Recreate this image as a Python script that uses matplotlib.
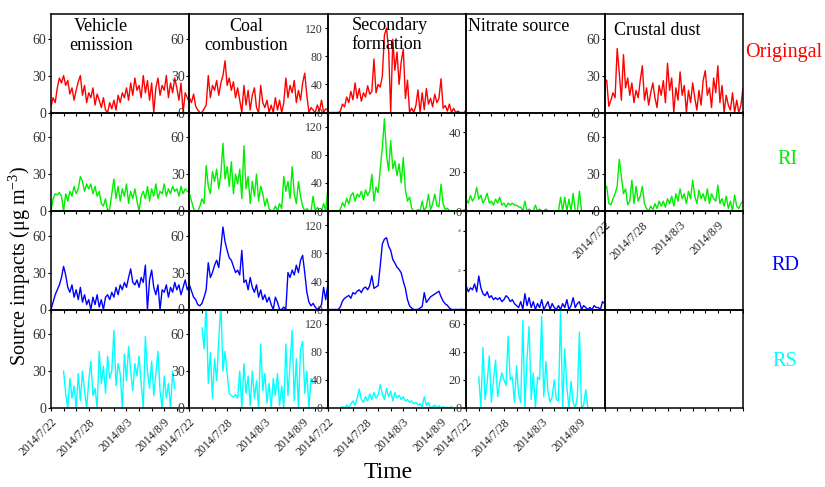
import numpy as np
import pandas as pd
import matplotlib
matplotlib.use('Agg')
import matplotlib.pyplot as plt
import matplotlib.dates as mdates

plt.rcParams['font.family'] = ['Liberation Serif', 'DejaVu Serif']
plt.rcParams['mathtext.fontset'] = 'custom'
plt.rcParams['mathtext.rm'] = 'Liberation Serif'
plt.rcParams['mathtext.it'] = 'Liberation Serif:italic'

# time axes, 8-hourly
t_full = pd.date_range('2014-07-22 00:00', periods=67, freq='8h')
t_rs = pd.date_range('2014-07-24 00:00', periods=54, freq='8h')

sources = ['Vehicle\nemission', 'Coal\ncombustion', 'Secondary\nformation', 'Nitrate source', 'Crustal dust']
methods = ['Origingal', 'RI', 'RD', 'RS']
method_colors = ['#ff0000', '#00ee00', '#0000ff', '#00ffff']
tick_dates = ['2014-07-22', '2014-07-28', '2014-08-03', '2014-08-09']
tick_labels = ['2014/7/22', '2014/7/28', '2014/8/3', '2014/8/9']

# ---- Original (red)
veh_orig = [5, 12, 8, 20, 28, 24, 30, 22, 26, 15, 20, 10, 18, 25, 30, 14, 22, 8, 16, 12, 20,
            6, 15, 10, 4, 12, 2, 0, 8, 3, 10, 2, 14, 8, 16, 12, 20, 10, 24, 14, 28, 18, 22, 12,
            30, 16, 26, 10, 24, 0, 20, 28, 14, 22, 18, 30, 12, 24, 16, 28, 20, 10, 24, 0, 16, 12, 8]
coal_orig = [12, 8, 15, 5, 2, 0, 0, 3, 6, 30, 12, 22, 18, 26, 14, 24, 30, 42, 22, 28, 18,
             25, 12, 20, 10, 0, 22, 6, 18, 2, 14, 20, 4, 0, 22, 8, 4, 10, 0, 6, 0, 12, 2, 10,
             0, 8, 28, 12, 22, 16, 26, 8, 18, 10, 24, 32, 14, 0, 4, 2, 0, 6, 1, 10, 0, 3, 2]
sec_orig = [0, 0, 0, 0, 0, 0, 2, 12, 8, 22, 14, 30, 18, 42, 20, 34, 16, 28, 22, 38, 26,
            30, 76, 28, 40, 36, 52, 110, 120, 90, 0, 104, 60, 86, 40, 72, 90, 20, 46, 0, 6, 0,
            10, 32, 0, 28, 4, 34, 12, 20, 8, 26, 14, 20, 48, 6, 10, 2, 12, 0, 6, 0, 2, 0, 0, 0, 4]
crust_orig = [27, 26, 5, 10, 16, 12, 52, 32, 10, 47, 20, 28, 14, 24, 8, 18, 12, 26, 38, 10, 20,
              6, 16, 24, 12, 4, 22, 14, 26, 8, 40, 18, 28, 0, 20, 10, 33, 14, 22, 0, 18, 8, 24,
              12, 2, 18, 6, 26, 34, 14, 20, 4, 28, 16, 38, 8, 22, 0, 14, 6, 2, 16, 0, 10, 0, 6, 20]

# ---- RI (green)
veh_ri = [0, 10, 14, 13, 15, 12, 0, 14, 8, 16, 12, 20, 14, 18, 28, 24, 16, 22, 18, 22, 14,
          20, 12, 16, 6, 4, 10, 0, 2, 14, 26, 10, 20, 8, 18, 12, 22, 6, 16, 10, 18, 8, 0, 12,
          16, 10, 20, 8, 18, 12, 22, 10, 16, 14, 22, 12, 18, 14, 20, 16, 18, 12, 20, 14, 18, 16, 15]
coal_ri = [14, 8, 2, 0, 0, 4, 10, 6, 37, 20, 14, 32, 24, 34, 18, 30, 55, 26, 36, 20, 40,
           14, 30, 22, 34, 10, 53, 18, 28, 6, 24, 12, 30, 8, 20, 14, 4, 10, 2, 0, 0, 4, 0, 6,
           2, 28, 16, 24, 10, 36, 14, 6, 24, 12, 4, 0, 2, 0, 0, 12, 0, 3, 0, 0, 6, 0, 18]
sec_ri = [0, 0, 0, 0, 0, 0, 2, 12, 6, 18, 10, 22, 26, 14, 24, 20, 28, 16, 30, 22, 28,
          52, 14, 34, 26, 60, 90, 131, 80, 57, 100, 60, 71, 50, 67, 40, 76, 30, 14, 20, 4, 0,
          0, 2, 0, 14, 0, 6, 24, 2, 10, 24, 8, 6, 38, 10, 2, 4, 0, 0, 0, 0, 0, 0, 0, 2, 2]
nit_ri = [6, 4, 8, 5, 7, 12, 6, 8, 4, 6, 9, 4, 5, 3, 6, 4, 7, 3, 4, 2, 4,
          3, 4, 3, 3, 2, 2, 0, 5, 0, 1, 0, 0, 3, 0, 1, 0, 0, 1, 0, 0, 0, 0, 0,
          0, 7, 0, 7, 0, 6, 0, 9, 0, 0, 10, 0, 0, 0, 0, 0, 0, 0, 0, 0, 0, 0, 0]
crust_ri = [21, 20, 6, 5, 10, 14, 20, 42, 28, 14, 18, 5, 8, 25, 6, 20, 8, 12, 20, 6, 2,
            0, 4, 1, 6, 2, 8, 4, 8, 3, 10, 6, 12, 4, 14, 8, 18, 10, 14, 6, 16, 10, 25, 12,
            6, 17, 10, 14, 8, 18, 6, 14, 10, 8, 21, 6, 10, 4, 12, 2, 8, 0, 13, 4, 2, 6, 8]

# ---- RD (blue)
veh_rd = [0, 6, 12, 16, 20, 26, 35, 28, 18, 14, 20, 10, 16, 8, 18, 6, 12, 4, 8, 0, 10,
          4, 12, 2, 8, 0, 10, 12, 8, 14, 10, 18, 12, 20, 16, 22, 18, 26, 33, 22, 20, 24, 18,
          26, 22, 36, 0, 24, 32, 18, 12, 20, 0, 16, 14, 20, 10, 18, 14, 22, 16, 20, 12, 18, 24, 16, 20]
coal_rd = [20, 15, 10, 8, 4, 3, 5, 10, 16, 38, 26, 30, 36, 40, 34, 50, 67, 55, 48, 42, 40,
           35, 30, 32, 28, 48, 22, 24, 16, 26, 18, 14, 20, 10, 16, 8, 12, 6, 10, 4, 0, 10, 6,
           0, 0, 2, 0, 30, 26, 32, 28, 36, 30, 40, 44, 30, 14, 6, 3, 5, 2, 0, 1, 4, 18, 8, 20]
sec_rd = [0, 0, 0, 0, 0, 0, 4, 12, 16, 18, 20, 16, 24, 22, 26, 28, 24, 30, 32, 28, 34,
          48, 30, 32, 34, 62, 93, 100, 102, 90, 84, 71, 66, 60, 57, 52, 40, 30, 14, 5, 2, 0,
          0, 0, 2, 4, 24, 10, 14, 18, 20, 22, 24, 26, 18, 12, 8, 6, 2, 0, 0, 0, 0, 0, 0, 0, 0]
nit_rd = [12, 9, 11, 10, 13, 9, 17, 11, 8, 7, 9, 6, 7, 5, 6, 5, 6, 4, 5, 7, 6,
          4, 5, 3, 2, 1, 4, 0, 8, 2, 6, 1, 4, 0, 3, 1, 5, 0, 2, 4, 0, 3, 1, 0, 2,
          0, 3, 1, 5, 0, 2, 6, 1, 3, 4, 0, 2, 1, 0, 1, 0, 2, 1, 1, 0, 4, 3]

# ---- RS (cyan), starts 2014/7/24
veh_rs = [30, 12, 0, 24, 8, 18, 0, 28, 6, 30, 14, 0, 22, 38, 10, 16, 0, 46,
          20, 34, 12, 42, 24, 30, 63, 18, 36, 28, 0, 44, 22, 50, 30, 14, 36, 26,
          42, 20, 0, 58, 30, 16, 38, 10, 28, 46, 14, 0, 26, 8, 20, 0, 30, 16]
coal_rs = [65, 48, 85, 20, 45, 8, 40, 22, 55, 85, 30, 46, 28, 12, 10, 9, 11, 8,
           30, 0, 36, 12, 26, 2, 30, 8, 22, 0, 52, 14, 28, 4, 20, 0, 24, 10,
           28, 2, 18, 0, 52, 10, 36, 63, 6, 40, 0, 48, 54, 12, 30, 0, 24, 20]
sec_rs = [0, 2, 0, 4, 0, 6, 10, 4, 14, 27, 12, 8, 16, 10, 20, 12, 22, 14,
          18, 33, 20, 12, 28, 16, 24, 10, 22, 14, 18, 12, 16, 10, 12, 8, 10, 6,
          8, 4, 6, 2, 16, 4, 8, 0, 2, 4, 0, 3, 0, 2, 0, 1, 0, 2]
nit_rs = [22, 0, 43, 6, 18, 37, 4, 20, 34, 8, 18, 25, 20, 16, 51, 20, 22, 4,
          30, 10, 4, 62, 0, 35, 58, 6, 25, 0, 22, 20, 65, 8, 33, 12, 4, 8,
          20, 6, 5, 70, 0, 42, 15, 0, 19, 4, 0, 8, 54, 0, 2, 13, 0, 0]

panels = [
    [(t_full, veh_orig), (t_full, coal_orig), (t_full, sec_orig), None, (t_full, crust_orig)],
    [(t_full, veh_ri), (t_full, coal_ri), (t_full, sec_ri), (t_full, nit_ri), (t_full, crust_ri)],
    [(t_full, veh_rd), (t_full, coal_rd), (t_full, sec_rd), (t_full, nit_rd), None],
    [(t_rs, veh_rs), (t_rs, coal_rs), (t_rs, sec_rs), (t_rs, nit_rs), None],
]

fig = plt.figure(figsize=(8.25, 4.87), dpi=100)
gs = fig.add_gridspec(4, 5, left=51/825, right=743/825, top=1-14/487, bottom=1-408/487,
                      wspace=0, hspace=0)

x0 = pd.Timestamp('2014-07-22')
x1 = pd.Timestamp('2014-08-13')
ticks = [pd.Timestamp(d) for d in tick_dates]

for r in range(4):
    for c in range(5):
        ax = fig.add_subplot(gs[r, c])
        ax.set_facecolor('none')
        p = panels[r][c]
        if p is not None:
            ax.plot(p[0], p[1], color=method_colors[r], lw=1.0)
        ax.set_xlim(x0, x1)
        # y scale per source
        if c == 2:
            ax.set_ylim(0, 140)
            ax.set_yticks([0, 40, 80, 120])
            ysize = 8.5
        elif c == 3:
            if r == 3:
                ax.set_ylim(0, 70)
                ax.set_yticks([0, 20, 40, 60])
            else:
                ax.set_ylim(0, 50)
                ax.set_yticks([0, 20, 40])
            ysize = 9
        else:
            ax.set_ylim(0, 80)
            ax.set_yticks([0, 30, 60])
            ysize = 10
        if r == 2 and c == 3:
            ysize = 2.5
        ax.tick_params(axis='y', direction='out', length=2.5, width=0.8,
                       labelsize=ysize, labelcolor='#333333', pad=1)
        if (r == 0 and c == 3) or (r >= 2 and c == 4):
            ax.set_yticks([])
        ax.set_xticks(ticks)
        ax.xaxis.set_minor_locator(mdates.DayLocator(interval=2))
        ax.tick_params(axis='x', which='both', direction='out', length=2.5, width=0.8)
        if (r == 3 and c < 4) or (r == 1 and c == 4):
            ax.set_xticklabels(tick_labels, rotation=45, ha='right', rotation_mode='anchor',
                               fontsize=8.5, color='#222222')
        else:
            ax.tick_params(axis='x', labelbottom=False)
        for s in ax.spines.values():
            s.set_linewidth(1.1)
        if r == 0:
            if c == 0:
                ax.text(0.36, 0.96, sources[c], transform=ax.transAxes, ha='center', va='top',
                        fontsize=13, linespacing=1.15)
            elif c == 1:
                ax.text(0.41, 0.96, sources[c], transform=ax.transAxes, ha='center', va='top',
                        fontsize=13, linespacing=1.15)
            elif c == 2:
                ax.text(0.17, 0.97, sources[c], transform=ax.transAxes, ha='left', va='top',
                        fontsize=13, linespacing=1.15)
            elif c == 3:
                ax.text(0.015, 0.96, sources[c], transform=ax.transAxes, ha='left', va='top',
                        fontsize=13)
            else:
                ax.text(0.07, 0.92, sources[c], transform=ax.transAxes, ha='left', va='top',
                        fontsize=13)

# method labels on the right
label_y = [53, 160, 265, 362]
label_x = [784, 788, 785, 785]
for i in range(4):
    fig.text(label_x[i]/825, 1-label_y[i]/487, methods[i], color=method_colors[i],
             ha='center', va='center', fontsize=14.5)

fig.text(20/825, 1-266/487, 'Source impacts (μg m$^{-3}$)', rotation=90,
         ha='center', va='center', fontsize=14.5)
fig.text(388/825, 1-473/487, 'Time', ha='center', va='center', fontsize=17)

fig.savefig('out.png', dpi=100)
